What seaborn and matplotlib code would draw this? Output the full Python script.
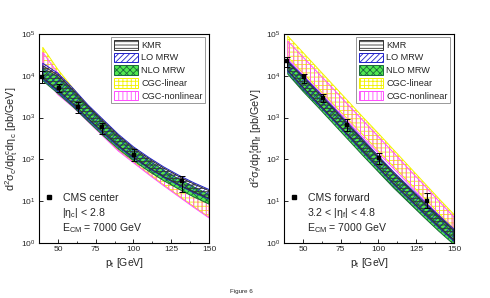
import numpy as np
import pandas as pd
import matplotlib
matplotlib.use('Agg')
import matplotlib.pyplot as plt
import seaborn as sns
from matplotlib.patches import Patch
from matplotlib.lines import Line2D
from matplotlib.ticker import MultipleLocator, FixedLocator, NullLocator

# ---------------- data (log10 of d2sigma in pb/GeV) ----------------
pt = [40, 50, 60, 70, 80, 90, 100, 110, 120, 130, 140, 150]

# central panel
c_kmr_hi = [4.24, 4.02, 3.66, 3.27, 2.92, 2.57, 2.27, 2.02, 1.79, 1.59, 1.41, 1.25]
c_kmr_lo = [3.95, 3.66, 3.34, 2.98, 2.65, 2.33, 2.05, 1.81, 1.59, 1.40, 1.22, 1.07]
c_lo_hi = [4.30, 4.06, 3.70, 3.30, 2.95, 2.60, 2.30, 2.05, 1.82, 1.62, 1.44, 1.28]
c_lo_lo = [3.92, 3.62, 3.30, 2.95, 2.62, 2.30, 2.03, 1.79, 1.57, 1.38, 1.20, 1.05]
c_nlo_hi = [4.18, 3.98, 3.63, 3.24, 2.89, 2.54, 2.24, 1.98, 1.74, 1.53, 1.34, 1.16]
c_nlo_lo = [3.88, 3.58, 3.26, 2.91, 2.57, 2.25, 1.97, 1.72, 1.49, 1.29, 1.10, 0.93]
c_cgcl_hi = [4.68, 4.15, 3.70, 3.27, 2.88, 2.52, 2.20, 1.94, 1.70, 1.49, 1.30, 1.14]
c_cgcl_lo = [4.02, 3.57, 3.27, 2.92, 2.57, 2.22, 1.94, 1.66, 1.39, 1.13, 0.87, 0.62]
c_cgcn_hi = [4.56, 4.06, 3.62, 3.20, 2.82, 2.47, 2.16, 1.90, 1.66, 1.45, 1.26, 1.10]
c_cgcn_lo = [4.00, 3.55, 3.25, 2.90, 2.55, 2.20, 1.92, 1.64, 1.37, 1.11, 0.85, 0.60]

# forward panel
f_kmr_hi = [4.33, 3.97, 3.60, 3.22, 2.83, 2.44, 2.05, 1.67, 1.32, 0.97, 0.63, 0.30]
f_kmr_lo = [4.13, 3.73, 3.35, 2.97, 2.58, 2.19, 1.81, 1.43, 1.08, 0.73, 0.39, 0.07]
f_lo_hi = [4.36, 4.00, 3.63, 3.25, 2.86, 2.47, 2.08, 1.70, 1.35, 1.00, 0.66, 0.33]
f_lo_lo = [4.10, 3.70, 3.32, 2.94, 2.55, 2.16, 1.78, 1.40, 1.05, 0.70, 0.36, 0.04]
f_nlo_hi = [4.31, 3.95, 3.58, 3.20, 2.81, 2.42, 2.03, 1.65, 1.30, 0.95, 0.61, 0.28]
f_nlo_lo = [4.04, 3.63, 3.25, 2.86, 2.47, 2.08, 1.70, 1.32, 0.97, 0.62, 0.28, -0.04]
f_cgcl_hi = [4.95, 4.56, 4.17, 3.78, 3.39, 3.00, 2.62, 2.23, 1.84, 1.45, 1.06, 0.68]
f_cgcl_lo = [4.45, 4.07, 3.70, 3.33, 2.95, 2.58, 2.20, 1.83, 1.46, 1.09, 0.71, 0.34]
f_cgcn_hi = [4.83, 4.45, 4.07, 3.69, 3.30, 2.92, 2.54, 2.16, 1.77, 1.39, 1.00, 0.62]
f_cgcn_lo = [4.40, 4.02, 3.65, 3.28, 2.90, 2.52, 2.15, 1.78, 1.41, 1.03, 0.66, 0.28]

# CMS data
data_pt = [39.5, 50.5, 63.0, 79.5, 100.5, 132.0]
cen_val = [9600, 5200, 1800, 580, 130, 30]
cen_hi = [13000, 6300, 2300, 760, 175, 40]
cen_lo = [6900, 4200, 1300, 400, 91, 17]
fwd_val = [22000, 9100, 2900, 650, 110, 10]
fwd_hi = [27500, 11000, 3600, 910, 145, 16]
fwd_lo = [15800, 6900, 2300, 480, 76, 6.9]

x_ticks = [50, 75, 100, 125, 150]
band_labels = ['KMR', 'LO MRW', 'NLO MRW', 'CGC-linear', 'CGC-nonlinear']

# ---------------- style ----------------
sns.set_theme(style='ticks')
plt.rcParams['font.family'] = ['Liberation Sans', 'DejaVu Sans']
plt.rcParams['mathtext.default'] = 'regular'
plt.rcParams['hatch.linewidth'] = 0.6
plt.rcParams['axes.linewidth'] = 0.8

styles = {
    'CGC-linear': dict(facecolor='white', edgecolor='#f2f200', hatch='++++'),
    'CGC-nonlinear': dict(facecolor='none', edgecolor='#ff4dff', hatch='||||'),
    'NLO MRW': dict(facecolor='#50e850', edgecolor='#1a6a3a', hatch='xxxxx'),
    'LO MRW': dict(facecolor='none', edgecolor='#2020c8', hatch='//////'),
    'KMR': dict(facecolor='none', edgecolor='#303030', hatch='-----'),
}


def legend_patch(name):
    st = styles[name]
    fc = st['facecolor'] if st['facecolor'] != 'none' else 'white'
    try:
        return Patch(facecolor=fc, edgecolor='#808080', hatch=st['hatch'],
                     hatchcolor=st['edgecolor'], linewidth=0.7)
    except Exception:
        return Patch(facecolor=fc, edgecolor=st['edgecolor'], hatch=st['hatch'], linewidth=0.7)


fig = plt.figure(figsize=(4.9, 2.98), dpi=100)
axL = fig.add_axes([0.0796, 0.1846, 0.347, 0.7014])
axR = fig.add_axes([0.5796, 0.1846, 0.347, 0.7014])

panels = [
    (axL, dict(zip(band_labels, [(c_kmr_lo, c_kmr_hi), (c_lo_lo, c_lo_hi), (c_nlo_lo, c_nlo_hi),
                                  (c_cgcl_lo, c_cgcl_hi), (c_cgcn_lo, c_cgcn_hi)])),
     cen_val, cen_lo, cen_hi, 'CMS center', r'$|\eta_c|$ < 2.8',
     r'd$^2\sigma_c$/dp$_t^c$d$\eta_c$ [pb/GeV]'),
    (axR, dict(zip(band_labels, [(f_kmr_lo, f_kmr_hi), (f_lo_lo, f_lo_hi), (f_nlo_lo, f_nlo_hi),
                                  (f_cgcl_lo, f_cgcl_hi), (f_cgcn_lo, f_cgcn_hi)])),
     fwd_val, fwd_lo, fwd_hi, 'CMS forward', r'3.2 < $|\eta_f|$ < 4.8',
     r'd$^2\sigma_f$/dp$_t^f$d$\eta_f$ [pb/GeV]'),
]

draw_order = ['CGC-linear', 'CGC-nonlinear', 'NLO MRW', 'LO MRW', 'KMR']

for ax, bands, val, lo, hi, dlabel, etatxt, ylab in panels:
    x = np.array(pt, dtype=float)
    for name in draw_order:
        blo, bhi = bands[name]
        st = styles[name]
        ax.fill_between(x, 10 ** np.array(blo), 10 ** np.array(bhi),
                        facecolor=st['facecolor'], edgecolor=st['edgecolor'],
                        hatch=st['hatch'], linewidth=0.7, zorder=2)
    df = pd.DataFrame({'pt': data_pt, 'val': val})
    yerr = [np.array(val) - np.array(lo), np.array(hi) - np.array(val)]
    ax.errorbar(data_pt, val, yerr=yerr, fmt='none', ecolor='black',
                elinewidth=0.7, capsize=2.2, capthick=0.7, zorder=5)
    sns.scatterplot(data=df, x='pt', y='val', ax=ax, marker='s', color='black',
                    s=10, edgecolor='black', linewidth=0.3, zorder=6, legend=False)

    ax.set_yscale('log')
    ax.set_xlim(37.5, 150)
    ax.set_ylim(1, 1e5)
    ax.xaxis.set_major_locator(FixedLocator(x_ticks))
    ax.xaxis.set_minor_locator(MultipleLocator(12.5))
    ax.yaxis.set_major_locator(FixedLocator([1, 10, 100, 1e3, 1e4, 1e5]))
    ax.yaxis.set_minor_locator(NullLocator())
    ax.tick_params(axis='both', which='major', direction='in', length=3, width=0.7,
                   labelsize=6, pad=2.5)
    ax.tick_params(axis='both', which='minor', direction='in', length=1.6, width=0.6)
    ax.set_xlabel('p$_t$ [GeV]', fontsize=7.5, labelpad=1.5)
    ax.set_ylabel(ylab, fontsize=7.8, labelpad=1)
    for sp in ax.spines.values():
        sp.set_visible(True)
        sp.set_color('black')

    handles = [legend_patch(n) for n in band_labels]
    leg = ax.legend(handles, band_labels, loc='upper right', bbox_to_anchor=(0.978, 0.985),
                    fontsize=6.6, frameon=True, fancybox=False, edgecolor='#808080',
                    handlelength=2.6, handleheight=1.25, handletextpad=0.35,
                    labelspacing=0.3, borderpad=0.3, borderaxespad=0.0)
    leg.get_frame().set_linewidth(0.7)
    ax.add_artist(leg)

    dh = Line2D([], [], marker='s', color='black', linestyle='none', markersize=2.8)
    ax.legend([dh], [dlabel], loc='center left', bbox_to_anchor=(0.0, 0.215),
              fontsize=7.6, frameon=False, handlelength=1.0, handletextpad=0.9,
              borderaxespad=0.2, borderpad=0.2)
    ax.text(0.135, 0.144, etatxt, transform=ax.transAxes, fontsize=7.6, va='center', ha='left')
    ax.text(0.135, 0.072, 'E$_{CM}$ = 7000 GeV', transform=ax.transAxes, fontsize=7.6,
            va='center', ha='left')

fig.text(0.492, 0.023, 'Figure 6', fontsize=4.5, ha='center', va='center')
fig.savefig('out.png', dpi=100)
